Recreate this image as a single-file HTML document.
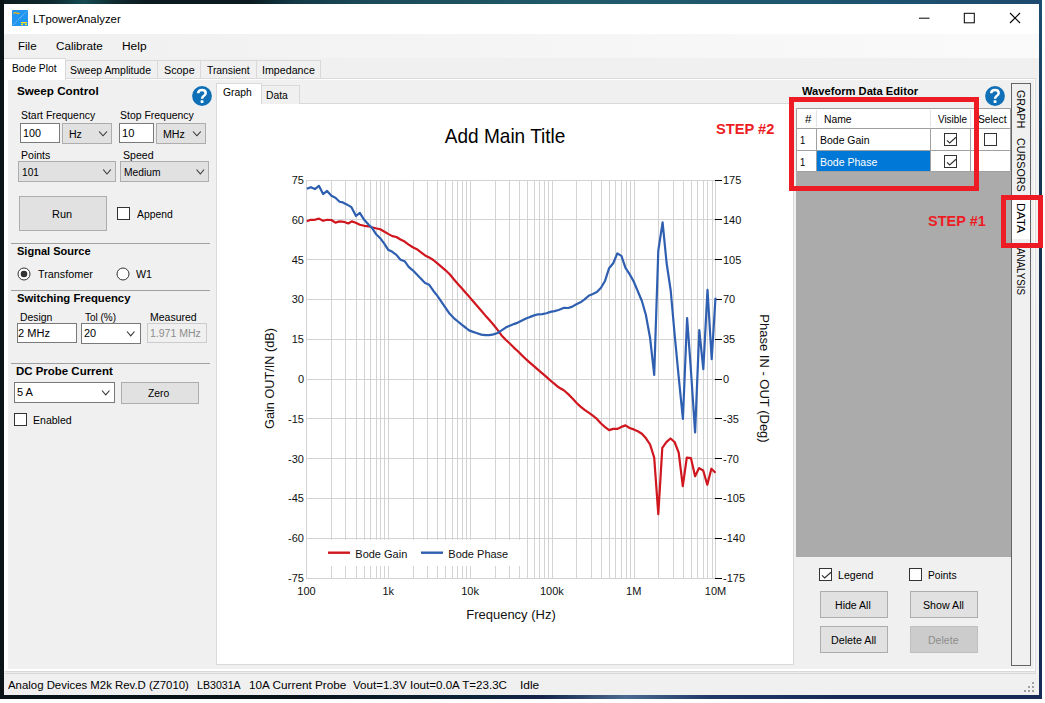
<!DOCTYPE html>
<html><head><meta charset="utf-8"><style>
html,body{margin:0;padding:0}
body{width:1045px;height:703px;position:relative;overflow:hidden;background:#fff;font-family:"Liberation Sans",sans-serif}
div{position:absolute}
.t{position:absolute;white-space:nowrap;line-height:1.15;color:#000;transform-origin:0 0}
</style></head><body>
<div style="left:0px;top:0px;width:1042px;height:699px;background:linear-gradient(90deg,#0c1a1e 0%,#0e2a30 5%,#154a52 8%,#0f2a30 11%,#0b1a1f 14%,#0b1a1f 24%,#123845 28%,#1b4a58 35%,#215a6a 55%,#1f5670 75%,#1d4a6e 100%)"></div>
<div style="left:0px;top:0px;width:4px;height:699px;background:#0a1417"></div>
<div style="left:1039px;top:0px;width:3px;height:699px;background:linear-gradient(180deg,#1d4d70 0%,#173656 25%,#12284a 55%,#172a5a 100%)"></div>
<div style="left:0px;top:695px;width:1042px;height:4px;background:linear-gradient(90deg,#08131a 0%,#08131a 28%,#0d2438 45%,#15244a 52%,#4a6a90 60%,#203a68 68%,#182a58 80%,#182a58 100%)"></div>
<div style="left:4px;top:4px;width:1035px;height:691px;background:#f0f0f0"></div>
<div style="left:4px;top:4px;width:1035px;height:30px;background:#fff"></div>
<svg width="16" height="16" style="position:absolute;left:12px;top:10px"><rect x="0" y="0" width="16" height="16" rx="0.5" fill="#2196f0"/><path d="M1.2 14.8L14.8 1.2" stroke="#a9d3f7" stroke-width="0.8" stroke-dasharray="1 0.6"/><path d="M1.5 3.5Q3 2 4.5 3T7.5 3" stroke="#f6b60f" stroke-width="1.3" fill="none"/><rect x="9" y="12" width="6" height="1.4" fill="#f7df22"/><rect x="9" y="14" width="2" height="1.2" fill="#f7df22"/><rect x="13" y="14" width="2" height="1.2" fill="#f7df22"/></svg>
<span class="t" style="left:32.69px;top:11.62px;font-size:11.7px;font-weight:400;color:#000;transform:scaleX(0.9738);">LTpowerAnalyzer</span>
<svg width="120" height="30" style="position:absolute;left:915px;top:4px"><path d="M4 14.2H14.5" stroke="#000" stroke-width="1"/><rect x="49.3" y="9.3" width="10" height="9.5" fill="none" stroke="#000" stroke-width="1"/><path d="M95 9L105 19M105 9L95 19" stroke="#000" stroke-width="1.1"/></svg>
<div style="left:4px;top:34px;width:1035px;height:24px;background:linear-gradient(90deg,#f0f0f0,#fafafa)"></div>
<span class="t" style="left:18.48px;top:39.12px;font-size:11.7px;font-weight:400;color:#000;transform:scaleX(0.9842);">File</span>
<span class="t" style="left:56.42px;top:39.12px;font-size:11.7px;font-weight:400;color:#000;transform:scaleX(0.9981);">Calibrate</span>
<span class="t" style="left:121.84px;top:39.12px;font-size:11.7px;font-weight:400;color:#000;transform:scaleX(1.0203);">Help</span>
<div style="left:65px;top:60px;width:94px;height:19px;background:#f0f0f0;border:1px solid #d9d9d9;box-sizing:border-box"></div>
<span class="t" style="left:70.13px;top:63.02px;font-size:11.7px;font-weight:400;color:#000;transform:scaleX(0.8967);">Sweep Amplitude</span>
<div style="left:157px;top:60px;width:45px;height:19px;background:#f0f0f0;border:1px solid #d9d9d9;box-sizing:border-box"></div>
<span class="t" style="left:163.71px;top:63.02px;font-size:11.7px;font-weight:400;color:#000;transform:scaleX(0.9248);">Scope</span>
<div style="left:200px;top:60px;width:58px;height:19px;background:#f0f0f0;border:1px solid #d9d9d9;box-sizing:border-box"></div>
<span class="t" style="left:207.09px;top:63.02px;font-size:11.7px;font-weight:400;color:#000;transform:scaleX(0.8828);">Transient</span>
<div style="left:256px;top:60px;width:65px;height:19px;background:#f0f0f0;border:1px solid #d9d9d9;box-sizing:border-box"></div>
<span class="t" style="left:262.34px;top:63.02px;font-size:11.7px;font-weight:400;color:#000;transform:scaleX(0.9133);">Impedance</span>
<div style="left:65px;top:78px;width:971px;height:1px;background:#d9d9d9"></div>
<div style="left:4px;top:79px;width:1035px;height:592px;background:#fff"></div>
<div style="left:8px;top:80px;width:1026px;height:589px;background:#f0f0f0"></div>
<div style="left:4px;top:58px;width:62px;height:22px;background:#fff;border-top:1px solid #d9d9d9;border-right:1px solid #d9d9d9;box-sizing:border-box"></div>
<span class="t" style="left:12.18px;top:61.02px;font-size:11.7px;font-weight:400;color:#000;transform:scaleX(0.8788);">Bode Plot</span>
<div style="left:5px;top:671px;width:1031px;height:1px;background:#d9d9d9"></div>
<div style="left:5px;top:672px;width:1032px;height:1px;background:#ececec"></div>
<div style="left:5px;top:673px;width:1033px;height:1px;background:#d9d9d9"></div>
<div style="left:1035px;top:79px;width:1px;height:594px;background:#dcdcdc"></div>
<div style="left:1036px;top:79px;width:3px;height:595px;background:#f2f2f2"></div>
<span class="t" style="left:16.75px;top:85.20px;font-size:11.5px;font-weight:700;color:#000;transform:scaleX(1.0138);">Sweep Control</span>
<div style="left:192px;top:86px;width:20px;height:20px;"><svg width="20" height="20" style="position:absolute;left:0;top:0"><circle cx="10" cy="10" r="9.9" fill="#0f6fb7"/><path d="M6.2 7.3C6.2 5 7.9 3.9 10 3.9C12.2 3.9 13.7 5.2 13.7 7C13.7 8.9 12 9.6 11 10.6C10.4 11.2 10.1 11.8 10.1 12.8" stroke="#fff" stroke-width="2.5" fill="none" stroke-linecap="butt"/><rect x="8.6" y="14.2" width="2.9" height="2.7" rx="0.6" fill="#fff"/></svg></div>
<span class="t" style="left:20.83px;top:107.72px;font-size:11.7px;font-weight:400;color:#000;transform:scaleX(0.8910);">Start Frequency</span>
<div style="left:20px;top:123px;width:40px;height:20px;background:#fff;border:1px solid #7a7a7a;box-sizing:border-box"></div>
<span class="t" style="left:23.19px;top:126.22px;font-size:11.7px;font-weight:400;color:#000;transform:scaleX(0.9179);">100</span>
<div style="left:62px;top:123px;width:50px;height:21px;background:#e1e1e1;border:1px solid #adadad;box-sizing:border-box"></div>
<span class="t" style="left:68.66px;top:126.72px;font-size:11.7px;font-weight:400;color:#000;transform:scaleX(0.9017);">Hz</span>
<svg width="1045" height="703" style="position:absolute;left:0;top:0;overflow:visible"><path d="M99.1 131.5L103.05 135.8L107 131.5" stroke="#333" stroke-width="1.1" fill="none"/></svg>
<span class="t" style="left:119.83px;top:107.72px;font-size:11.7px;font-weight:400;color:#000;transform:scaleX(0.8943);">Stop Frequency</span>
<div style="left:119px;top:123px;width:35px;height:20px;background:#fff;border:1px solid #7a7a7a;box-sizing:border-box"></div>
<span class="t" style="left:122.27px;top:126.22px;font-size:11.7px;font-weight:400;color:#000;transform:scaleX(0.9487);">10</span>
<div style="left:156px;top:123px;width:50px;height:21px;background:#e1e1e1;border:1px solid #adadad;box-sizing:border-box"></div>
<span class="t" style="left:162.85px;top:126.72px;font-size:11.7px;font-weight:400;color:#000;transform:scaleX(0.9102);">MHz</span>
<svg width="1045" height="703" style="position:absolute;left:0;top:0;overflow:visible"><path d="M193 131.5L196.9 135.8L200.8 131.5" stroke="#333" stroke-width="1.1" fill="none"/></svg>
<span class="t" style="left:20.56px;top:148.02px;font-size:11.7px;font-weight:400;color:#000;transform:scaleX(0.9012);">Points</span>
<span class="t" style="left:122.92px;top:148.02px;font-size:11.7px;font-weight:400;color:#000;transform:scaleX(0.9039);">Speed</span>
<div style="left:18px;top:161px;width:98px;height:21px;background:#e1e1e1;border:1px solid #adadad;box-sizing:border-box"></div>
<span class="t" style="left:21.84px;top:164.72px;font-size:11.7px;font-weight:400;color:#000;transform:scaleX(0.8685);">101</span>
<svg width="1045" height="703" style="position:absolute;left:0;top:0;overflow:visible"><path d="M103.2 169.5L107.0 174L110.8 169.5" stroke="#333" stroke-width="1.1" fill="none"/></svg>
<div style="left:120px;top:161px;width:89px;height:21px;background:#e1e1e1;border:1px solid #adadad;box-sizing:border-box"></div>
<span class="t" style="left:123.58px;top:164.72px;font-size:11.7px;font-weight:400;color:#000;transform:scaleX(0.8760);">Medium</span>
<svg width="1045" height="703" style="position:absolute;left:0;top:0;overflow:visible"><path d="M196.5 169.5L200.3 174L204.1 169.5" stroke="#333" stroke-width="1.1" fill="none"/></svg>
<div style="left:19px;top:196px;width:88px;height:35px;background:#e1e1e1;border:1px solid #adadad;box-sizing:border-box"></div>
<span class="t" style="left:51.62px;top:206.92px;font-size:11.7px;font-weight:400;color:#000;transform:scaleX(0.9356);">Run</span>
<div style="left:117px;top:207px;width:13px;height:13px;background:#fff;border:1px solid #333;box-sizing:border-box"></div>
<span class="t" style="left:136.50px;top:206.92px;font-size:11.7px;font-weight:400;color:#000;transform:scaleX(0.8850);">Append</span>
<div style="left:11px;top:243px;width:199px;height:1px;background:#a0a0a0"></div>
<span class="t" style="left:16.97px;top:245.20px;font-size:11.5px;font-weight:700;color:#000;transform:scaleX(0.9592);">Signal Source</span>
<div style="left:17px;top:266.6px;width:14px;height:14px;"><svg width="14" height="14" style="position:absolute;left:0;top:0"><circle cx="7" cy="7" r="6" fill="#fff" stroke="#333" stroke-width="1"/><circle cx="7" cy="7" r="3.3" fill="#333"/></svg></div>
<span class="t" style="left:37.88px;top:266.82px;font-size:11.7px;font-weight:400;color:#000;transform:scaleX(0.9235);">Transfomer</span>
<div style="left:116px;top:266.6px;width:14px;height:14px;"><svg width="14" height="14" style="position:absolute;left:0;top:0"><circle cx="7" cy="7" r="6" fill="#fff" stroke="#333" stroke-width="1"/></svg></div>
<span class="t" style="left:136.25px;top:266.82px;font-size:11.7px;font-weight:400;color:#000;transform:scaleX(0.9136);">W1</span>
<div style="left:11px;top:290px;width:199px;height:1px;background:#a0a0a0"></div>
<span class="t" style="left:16.96px;top:291.80px;font-size:11.5px;font-weight:700;color:#000;transform:scaleX(0.9806);">Switching Frequency</span>
<span class="t" style="left:20.17px;top:309.62px;font-size:11.7px;font-weight:400;color:#000;transform:scaleX(0.8907);">Design</span>
<span class="t" style="left:85.10px;top:309.62px;font-size:11.7px;font-weight:400;color:#000;transform:scaleX(0.8547);">Tol (%)</span>
<span class="t" style="left:149.56px;top:309.62px;font-size:11.7px;font-weight:400;color:#000;transform:scaleX(0.8984);">Measured</span>
<div style="left:17px;top:323px;width:60px;height:20px;background:#fff;border:1px solid #7a7a7a;box-sizing:border-box"></div>
<span class="t" style="left:18.45px;top:326.42px;font-size:11.7px;font-weight:400;color:#000;transform:scaleX(0.9466);">2 MHz</span>
<div style="left:81px;top:323px;width:60px;height:21px;background:#fff;border:1px solid #7a7a7a;box-sizing:border-box"></div>
<span class="t" style="left:83.75px;top:326.42px;font-size:11.7px;font-weight:400;color:#000;transform:scaleX(0.9339);">20</span>
<svg width="1045" height="703" style="position:absolute;left:0;top:0;overflow:visible"><path d="M127 331.5L130.75 335.8L134.5 331.5" stroke="#333" stroke-width="1.1" fill="none"/></svg>
<div style="left:147px;top:323px;width:60px;height:20px;background:#f0f0f0;border:1px solid #cccccc;box-sizing:border-box"></div>
<span class="t" style="left:150.21px;top:326.42px;font-size:11.7px;font-weight:400;color:#8d8d8d;transform:scaleX(0.9001);">1.971 MHz</span>
<div style="left:11px;top:363px;width:199px;height:1px;background:#a0a0a0"></div>
<span class="t" style="left:16.06px;top:365.30px;font-size:11.5px;font-weight:700;color:#000;transform:scaleX(0.9959);">DC Probe Current</span>
<div style="left:14px;top:382px;width:101px;height:21px;background:#fff;border:1px solid #7a7a7a;box-sizing:border-box"></div>
<span class="t" style="left:16.86px;top:385.22px;font-size:11.7px;font-weight:400;color:#000;transform:scaleX(0.9429);">5 A</span>
<svg width="1045" height="703" style="position:absolute;left:0;top:0;overflow:visible"><path d="M102 390.5L105.75 394.8L109.5 390.5" stroke="#333" stroke-width="1.1" fill="none"/></svg>
<div style="left:121px;top:382px;width:78px;height:22px;background:#e1e1e1;border:1px solid #adadad;box-sizing:border-box"></div>
<span class="t" style="left:148.09px;top:385.82px;font-size:11.7px;font-weight:400;color:#000;transform:scaleX(0.8827);">Zero</span>
<div style="left:14px;top:413px;width:13px;height:13px;background:#fff;border:1px solid #333;box-sizing:border-box"></div>
<span class="t" style="left:32.56px;top:412.62px;font-size:11.7px;font-weight:400;color:#000;transform:scaleX(0.9020);">Enabled</span>
<div style="left:216px;top:103px;width:578px;height:562px;background:#fff;border:1px solid #d9d9d9;box-sizing:border-box"></div>
<div style="left:261px;top:85px;width:39px;height:19px;background:#f0f0f0;border:1px solid #d9d9d9;border-bottom:none;box-sizing:border-box"></div>
<div style="left:216px;top:83px;width:46px;height:21px;background:#fff;border:1px solid #d9d9d9;border-bottom:none;box-sizing:border-box"></div>
<span class="t" style="left:223.48px;top:85.42px;font-size:11.7px;font-weight:400;color:#000;transform:scaleX(0.8852);">Graph</span>
<span class="t" style="left:265.67px;top:87.82px;font-size:11.7px;font-weight:400;color:#000;transform:scaleX(0.8842);">Data</span>
<svg width="1045" height="703" style="position:absolute;left:0;top:0">
<path d="M306.5 180V579M331.5 180V579M345.5 180V579M356.5 180V579M364.5 180V579M370.5 180V579M376.5 180V579M380.5 180V579M384.5 180V579M388.5 180V579M413.5 180V579M427.5 180V579M437.5 180V579M445.5 180V579M452.5 180V579M457.5 180V579M462.5 180V579M466.5 180V579M470.5 180V579M495.5 180V579M509.5 180V579M519.5 180V579M527.5 180V579M534.5 180V579M539.5 180V579M544.5 180V579M548.5 180V579M552.5 180V579M576.5 180V579M591.5 180V579M601.5 180V579M609.5 180V579M615.5 180V579M621.5 180V579M626.5 180V579M630.5 180V579M634.5 180V579M658.5 180V579M673.5 180V579M683.5 180V579M691.5 180V579M697.5 180V579M703.5 180V579M707.5 180V579M712.5 180V579M715.5 180V579M306 180.5H716M306 219.5H716M306 259.5H716M306 299.5H716M306 339.5H716M306 379.5H716M306 418.5H716M306 458.5H716M306 498.5H716M306 538.5H716M306 578.5H716" stroke="#d3d3d3" stroke-width="1" fill="none"/>
<rect x="308" y="540" width="214" height="26" fill="#fff"/>
<path d="M715 180.5H722M715 219.5H722M715 259.5H722M715 299.5H722M715 339.5H722M715 379.5H722M715 418.5H722M715 458.5H722M715 498.5H722M715 538.5H722M715 578.5H722" stroke="#000" stroke-width="1" fill="none"/>
<polyline points="306.8,221.3 310.8,219.8 314.9,219.8 318.9,218.6 323.1,220.8 327.1,219.8 331.4,220.0 335.4,222.6 339.6,221.4 343.8,221.8 348.3,223.5 351.8,221.4 355.8,222.8 359.8,224.8 364.2,225.8 368.7,226.3 371.7,227.3 375.7,228.3 380.2,229.3 384.1,231.5 388.2,233.9 392.3,236.1 396.4,237.0 400.5,239.5 404.6,241.6 408.7,244.6 412.8,247.2 416.9,249.2 421.0,252.3 425.1,255.4 429.2,257.4 433.3,260.0 437.4,263.4 441.5,266.8 445.6,270.3 449.7,274.2 453.8,279.3 457.9,283.9 462.0,288.5 466.1,293.3 469.1,296.6 473.1,301.3 477.2,306.0 481.3,310.7 485.3,315.4 489.4,320.0 493.5,324.7 497.6,329.9 501.6,335.4 505.7,339.8 509.8,343.5 513.8,347.6 517.9,351.3 522.0,355.4 526.0,359.2 530.1,362.8 534.2,366.4 538.2,369.8 542.3,373.3 546.4,376.9 550.4,380.5 554.5,383.9 558.6,387.3 564.1,390.5 568.2,394.1 572.3,398.2 576.4,402.8 580.5,406.6 584.6,409.8 588.7,412.7 592.8,415.7 596.9,418.9 601.0,423.5 605.1,427.1 609.1,430.1 613.2,428.9 617.3,428.9 621.4,426.9 625.5,425.4 629.6,428.0 633.7,429.4 637.8,431.2 641.9,433.7 646.0,438.3 650.1,444.5 654.2,457.7 658.3,514.2 662.3,447.8 666.4,442.1 670.5,438.5 674.6,442.0 678.7,452.7 682.8,486.2 686.8,457.7 690.9,458.1 695.1,476.2 699.1,468.1 703.2,470.5 707.3,484.8 711.4,468.7 715.5,472.7" fill="none" stroke="#d0161e" stroke-width="2.2" stroke-linejoin="round"/>
<polyline points="306.8,188.7 310.8,187.2 314.9,189.1 318.9,185.8 323.1,194.1 327.1,190.9 331.4,195.7 335.4,197.7 339.6,201.7 342.8,202.4 346.8,204.4 351.3,207.1 356.0,216.0 359.8,212.8 364.2,219.8 368.7,224.8 371.7,227.3 376.2,234.3 380.2,238.2 384.1,243.4 388.2,249.8 392.3,251.8 396.4,254.9 400.5,259.7 404.6,261.2 408.7,266.8 412.8,270.3 416.9,274.5 421.0,278.8 425.1,283.1 429.2,284.8 433.3,290.7 437.4,295.9 441.5,301.8 445.6,307.8 449.7,313.8 453.8,318.1 457.9,321.5 462.0,324.9 466.1,328.0 469.1,330.4 473.1,331.9 477.2,333.2 481.3,334.6 485.3,335.1 489.4,335.1 493.5,334.4 497.6,333.0 501.6,330.4 505.7,327.6 509.8,325.7 513.8,324.1 517.9,322.6 522.0,320.5 526.0,318.6 530.1,316.9 534.2,315.4 538.2,314.3 542.3,314.1 546.4,313.2 550.4,311.9 554.5,311.1 558.6,310.0 564.1,307.8 568.2,308.0 572.3,306.6 576.4,304.3 580.5,302.3 584.6,299.4 588.7,295.7 592.8,294.0 596.9,292.1 601.0,287.8 605.1,280.7 609.1,268.2 613.2,263.3 617.3,253.4 621.4,255.9 625.5,267.9 629.6,274.1 633.7,281.5 637.8,291.2 641.9,301.0 645.9,315.0 650.1,338.0 654.2,374.9 658.3,250.7 662.6,222.3 666.6,263.0 670.7,290.5 674.6,334.0 678.7,377.0 682.9,419.0 687.1,318.0 690.9,370.0 695.1,432.5 699.3,330.0 703.3,369.2 707.5,289.8 711.7,359.2 715.5,297.7" fill="none" stroke="#2f5fb0" stroke-width="2.2" stroke-linejoin="round"/>
<path d="M328 552.7H350" stroke="#d0161e" stroke-width="2.4"/>
<path d="M421 552.7H443" stroke="#2f5fb0" stroke-width="2.4"/>
<text x="355.3" y="557.8" font-family="Liberation Sans" font-size="11" fill="#111">Bode Gain</text>
<text x="448.3" y="557.8" font-family="Liberation Sans" font-size="11" fill="#111">Bode Phase</text>
<text x="304" y="184.0" font-family="Liberation Sans" font-size="11" text-anchor="end" fill="#111">75</text>
<text x="304" y="223.8" font-family="Liberation Sans" font-size="11" text-anchor="end" fill="#111">60</text>
<text x="304" y="263.6" font-family="Liberation Sans" font-size="11" text-anchor="end" fill="#111">45</text>
<text x="304" y="303.4" font-family="Liberation Sans" font-size="11" text-anchor="end" fill="#111">30</text>
<text x="304" y="343.2" font-family="Liberation Sans" font-size="11" text-anchor="end" fill="#111">15</text>
<text x="304" y="383.0" font-family="Liberation Sans" font-size="11" text-anchor="end" fill="#111">0</text>
<text x="304" y="422.8" font-family="Liberation Sans" font-size="11" text-anchor="end" fill="#111">-15</text>
<text x="304" y="462.6" font-family="Liberation Sans" font-size="11" text-anchor="end" fill="#111">-30</text>
<text x="304" y="502.4" font-family="Liberation Sans" font-size="11" text-anchor="end" fill="#111">-45</text>
<text x="304" y="542.2" font-family="Liberation Sans" font-size="11" text-anchor="end" fill="#111">-60</text>
<text x="304" y="582.0" font-family="Liberation Sans" font-size="11" text-anchor="end" fill="#111">-75</text>
<text x="723" y="184.0" font-family="Liberation Sans" font-size="11" fill="#111">175</text>
<text x="723" y="223.8" font-family="Liberation Sans" font-size="11" fill="#111">140</text>
<text x="723" y="263.6" font-family="Liberation Sans" font-size="11" fill="#111">105</text>
<text x="723" y="303.4" font-family="Liberation Sans" font-size="11" fill="#111">70</text>
<text x="723" y="343.2" font-family="Liberation Sans" font-size="11" fill="#111">35</text>
<text x="723" y="383.0" font-family="Liberation Sans" font-size="11" fill="#111">0</text>
<text x="723" y="422.8" font-family="Liberation Sans" font-size="11" fill="#111">-35</text>
<text x="723" y="462.6" font-family="Liberation Sans" font-size="11" fill="#111">-70</text>
<text x="723" y="502.4" font-family="Liberation Sans" font-size="11" fill="#111">-105</text>
<text x="723" y="542.2" font-family="Liberation Sans" font-size="11" fill="#111">-140</text>
<text x="723" y="582.0" font-family="Liberation Sans" font-size="11" fill="#111">-175</text>
<text x="306.5" y="595" font-family="Liberation Sans" font-size="11" text-anchor="middle" fill="#111">100</text>
<text x="388.3" y="595" font-family="Liberation Sans" font-size="11" text-anchor="middle" fill="#111">1k</text>
<text x="470.1" y="595" font-family="Liberation Sans" font-size="11" text-anchor="middle" fill="#111">10k</text>
<text x="551.9" y="595" font-family="Liberation Sans" font-size="11" text-anchor="middle" fill="#111">100k</text>
<text x="633.7" y="595" font-family="Liberation Sans" font-size="11" text-anchor="middle" fill="#111">1M</text>
<text x="715.5" y="595" font-family="Liberation Sans" font-size="11" text-anchor="middle" fill="#111">10M</text>
<text x="511" y="619" font-family="Liberation Sans" font-size="13" text-anchor="middle" fill="#111">Frequency (Hz)</text>
<text transform="translate(273.5 378.5) rotate(-90)" font-family="Liberation Sans" font-size="12.7" text-anchor="middle" fill="#111">Gain OUT/IN (dB)</text>
<text transform="translate(760 378.5) rotate(90)" font-family="Liberation Sans" font-size="13" text-anchor="middle" fill="#111">Phase IN - OUT (Deg)</text>
<text x="444.8" y="142.7" font-family="Liberation Sans" font-size="19.8" textLength="120.6" lengthAdjust="spacingAndGlyphs" fill="#000">Add Main Title</text>
</svg>
<span class="t" style="left:716.16px;top:119.98px;font-size:15px;font-weight:700;color:#ed1c24;transform:scaleX(0.9774);">STEP #2</span>
<span class="t" style="left:801.50px;top:84.90px;font-size:11.5px;font-weight:700;color:#000;transform:scaleX(0.9695);">Waveform Data Editor</span>
<div style="left:985px;top:86px;width:20px;height:20px;"><svg width="20" height="20" style="position:absolute;left:0;top:0"><circle cx="10" cy="10" r="9.9" fill="#0f6fb7"/><path d="M6.2 7.3C6.2 5 7.9 3.9 10 3.9C12.2 3.9 13.7 5.2 13.7 7C13.7 8.9 12 9.6 11 10.6C10.4 11.2 10.1 11.8 10.1 12.8" stroke="#fff" stroke-width="2.5" fill="none" stroke-linecap="butt"/><rect x="8.6" y="14.2" width="2.9" height="2.7" rx="0.6" fill="#fff"/></svg></div>
<div style="left:796px;top:108px;width:215px;height:449px;background:#ababab"></div>
<div style="left:796px;top:108px;width:215px;height:64px;background:#fff"></div>
<svg width="1045" height="703" style="position:absolute;left:0;top:0"><path d="M796.5 108.5H1010.5M796.5 128.5H1010.5M796.5 150.5H1010.5M796.5 171.5H1010.5" stroke="#a0a0a0" stroke-width="1"/><path d="M796.5 108.5V171.5M816.5 128.5V171.5M930.5 128.5V171.5M970.5 128.5V171.5M1010.5 108.5V171.5" stroke="#a0a0a0" stroke-width="1"/><path d="M816.5 110V127M930.5 110V127M970.5 110V127" stroke="#e3e3e3" stroke-width="1"/></svg>
<div style="left:817px;top:151px;width:113px;height:20px;background:#0078d7"></div>
<span class="t" style="left:805.24px;top:112.22px;font-size:11.7px;font-weight:400;color:#000;transform:scaleX(1.0037);">#</span>
<span class="t" style="left:823.97px;top:112.22px;font-size:11.7px;font-weight:400;color:#000;transform:scaleX(0.8850);">Name</span>
<span class="t" style="left:938.25px;top:112.22px;font-size:11.7px;font-weight:400;color:#000;transform:scaleX(0.8443);">Visible</span>
<span class="t" style="left:978.24px;top:112.22px;font-size:11.7px;font-weight:400;color:#000;transform:scaleX(0.8782);">Select</span>
<span class="t" style="left:800.39px;top:133.32px;font-size:11.7px;font-weight:400;color:#000;transform:scaleX(0.8056);">1</span>
<span class="t" style="left:820.06px;top:133.32px;font-size:11.7px;font-weight:400;color:#000;transform:scaleX(0.8958);">Bode Gain</span>
<span class="t" style="left:800.39px;top:154.92px;font-size:11.7px;font-weight:400;color:#000;transform:scaleX(0.8056);">1</span>
<span class="t" style="left:820.06px;top:154.92px;font-size:11.7px;font-weight:400;color:#fff;transform:scaleX(0.8988);">Bode Phase</span>
<div style="left:944px;top:133px;width:13px;height:13px;background:#fff;border:1px solid #333;box-sizing:border-box"><svg width="13" height="13" style="position:absolute;left:0;top:0"><path d="M2 6.3L4.7 9L11 3.2" stroke="#333" stroke-width="1.2" fill="none"/></svg></div>
<div style="left:984px;top:133px;width:13px;height:13px;background:#fff;border:1px solid #333;box-sizing:border-box"></div>
<div style="left:944px;top:155px;width:13px;height:13px;background:#fff;border:1px solid #333;box-sizing:border-box"><svg width="13" height="13" style="position:absolute;left:0;top:0"><path d="M2 6.3L4.7 9L11 3.2" stroke="#333" stroke-width="1.2" fill="none"/></svg></div>
<div style="left:789px;top:97px;width:190px;height:94px;border:5px solid #ed1c24;box-sizing:border-box"></div>
<span class="t" style="left:927.96px;top:213.44px;font-size:14.5px;font-weight:700;color:#ed1c24;transform:scaleX(1.0003);">STEP #1</span>
<div style="left:819px;top:568px;width:13px;height:13px;background:#fff;border:1px solid #333;box-sizing:border-box"><svg width="13" height="13" style="position:absolute;left:0;top:0"><path d="M2 6.3L4.7 9L11 3.2" stroke="#333" stroke-width="1.2" fill="none"/></svg></div>
<span class="t" style="left:838.05px;top:568.22px;font-size:11.7px;font-weight:400;color:#000;transform:scaleX(0.9056);">Legend</span>
<div style="left:909px;top:568px;width:13px;height:13px;background:#fff;border:1px solid #333;box-sizing:border-box"></div>
<span class="t" style="left:927.68px;top:568.22px;font-size:11.7px;font-weight:400;color:#000;transform:scaleX(0.8788);">Points</span>
<div style="left:820px;top:591px;width:68px;height:27px;background:#e1e1e1;border:1px solid #adadad;box-sizing:border-box"></div>
<span class="t" style="left:834.95px;top:598.22px;font-size:11.7px;font-weight:400;color:#000;transform:scaleX(0.9034);">Hide All</span>
<div style="left:910px;top:591px;width:68px;height:27px;background:#e1e1e1;border:1px solid #adadad;box-sizing:border-box"></div>
<span class="t" style="left:923.02px;top:598.22px;font-size:11.7px;font-weight:400;color:#000;transform:scaleX(0.9132);">Show All</span>
<div style="left:820px;top:626px;width:68px;height:27px;background:#e1e1e1;border:1px solid #adadad;box-sizing:border-box"></div>
<span class="t" style="left:830.74px;top:633.22px;font-size:11.7px;font-weight:400;color:#000;transform:scaleX(0.9155);">Delete All</span>
<div style="left:910px;top:626px;width:68px;height:27px;background:#cccccc;border:1px solid #bfbfbf;box-sizing:border-box"></div>
<span class="t" style="left:927.86px;top:633.22px;font-size:11.7px;font-weight:400;color:#8d8d8d;transform:scaleX(0.9026);">Delete</span>
<div style="left:1011px;top:83px;width:20px;height:583px;background:#f0f0f0;border:1px solid #646464;box-sizing:border-box"></div>
<div style="left:1012px;top:198.5px;width:18px;height:40px;background:#fff"></div>
<span class="t" style="left:1028.09px;top:89.76px;font-size:11.7px;transform-origin:0 0;transform:rotate(90deg) scaleX(0.9208)">GRAPH</span>
<span class="t" style="left:1028.09px;top:138.36px;font-size:11.7px;transform-origin:0 0;transform:rotate(90deg) scaleX(0.9200)">CURSORS</span>
<span class="t" style="left:1028.09px;top:203.34px;font-size:11.7px;transform-origin:0 0;transform:rotate(90deg) scaleX(1.0214)">DATA</span>
<span class="t" style="left:1028.09px;top:247.90px;font-size:11.7px;transform-origin:0 0;transform:rotate(90deg) scaleX(0.8350)">ANALYSIS</span>
<div style="left:1001px;top:195px;width:42px;height:53px;border:5.5px solid #ed1c24;box-sizing:border-box"></div>
<span class="t" style="left:8.30px;top:677.82px;font-size:11.7px;font-weight:400;color:#000;transform:scaleX(0.9749);">Analog Devices M2k Rev.D (Z7010)</span>
<span class="t" style="left:197.25px;top:677.82px;font-size:11.7px;font-weight:400;color:#000;transform:scaleX(0.9087);">LB3031A</span>
<span class="t" style="left:248.72px;top:677.82px;font-size:11.7px;font-weight:400;color:#000;transform:scaleX(1.0055);">10A Current Probe</span>
<span class="t" style="left:353.34px;top:677.82px;font-size:11.7px;font-weight:400;color:#000;transform:scaleX(0.9904);">Vout=1.3V Iout=0.0A T=23.3C</span>
<span class="t" style="left:519.93px;top:677.82px;font-size:11.7px;font-weight:400;color:#000;transform:scaleX(1.0198);">Idle</span>
<svg width="12" height="12" style="position:absolute;left:1024px;top:682px"><g fill="#a0a0a0"><rect x="8" y="0" width="2" height="2"/><rect x="4" y="4" width="2" height="2"/><rect x="8" y="4" width="2" height="2"/><rect x="0" y="8" width="2" height="2"/><rect x="4" y="8" width="2" height="2"/><rect x="8" y="8" width="2" height="2"/></g></svg>
</body></html>
